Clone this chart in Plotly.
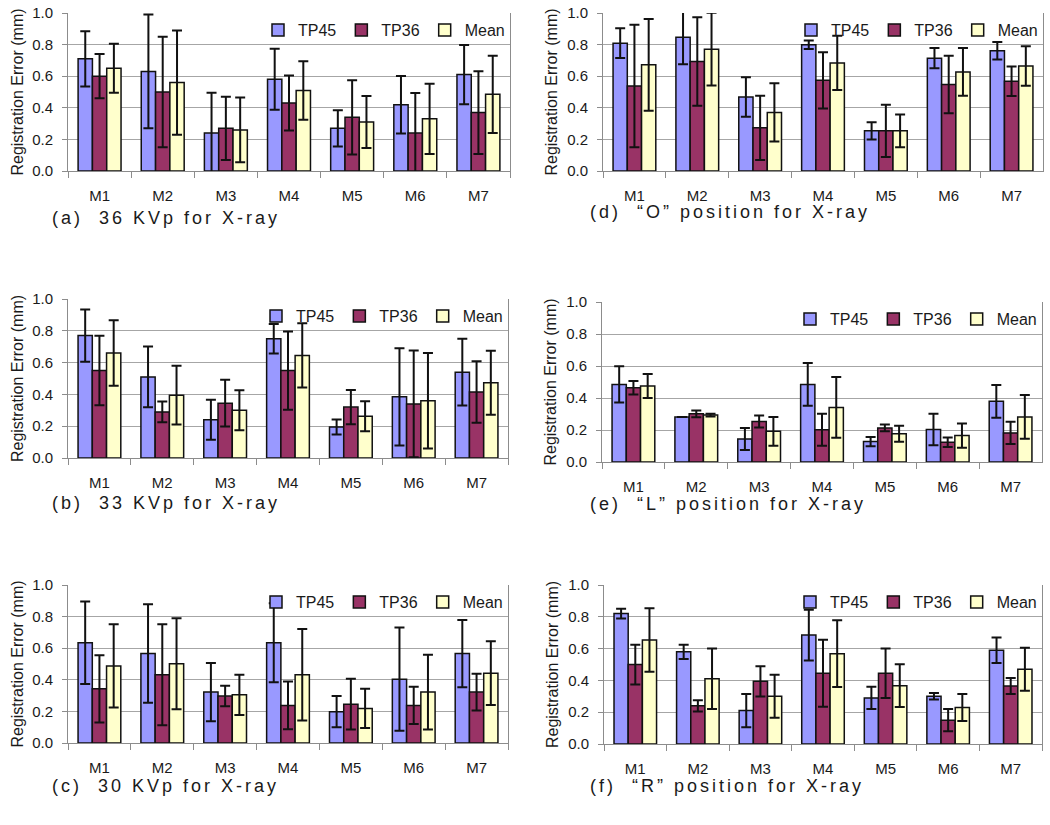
import plotly.graph_objects as go

categories = ["M1", "M2", "M3", "M4", "M5", "M6", "M7"]
series_names = ["TP45", "TP36", "Mean"]
y_ticks = [0.0, 0.2, 0.4, 0.6, 0.8, 1.0]

# (a) 36 KVp
a_tp45 = [0.71, 0.63, 0.24, 0.58, 0.27, 0.42, 0.61]
a_tp45_err = [0.175, 0.36, 0.256, 0.193, 0.115, 0.182, 0.188]
a_tp36 = [0.60, 0.50, 0.27, 0.43, 0.34, 0.24, 0.37]
a_tp36_err = [0.14, 0.35, 0.20, 0.174, 0.235, 0.254, 0.262]
a_mean = [0.65, 0.56, 0.26, 0.51, 0.31, 0.33, 0.485]
a_mean_err = [0.155, 0.33, 0.205, 0.185, 0.165, 0.222, 0.244]

# (b) 33 KVp
b_tp45 = [0.77, 0.51, 0.24, 0.75, 0.195, 0.385, 0.54]
b_tp45_err = [0.164, 0.191, 0.126, 0.093, 0.047, 0.306, 0.21]
b_tp36 = [0.55, 0.29, 0.345, 0.55, 0.32, 0.34, 0.415]
b_tp36_err = [0.219, 0.065, 0.147, 0.246, 0.107, 0.336, 0.193]
b_mean = [0.66, 0.395, 0.30, 0.645, 0.263, 0.36, 0.473]
b_mean_err = [0.206, 0.185, 0.126, 0.202, 0.094, 0.30, 0.201]

# (c) 30 KVp
c_tp45 = [0.634, 0.566, 0.322, 0.634, 0.198, 0.404, 0.566]
c_tp45_err = [0.261, 0.312, 0.185, 0.25, 0.099, 0.327, 0.213]
c_tp36 = [0.343, 0.432, 0.297, 0.238, 0.246, 0.238, 0.322]
c_tp36_err = [0.213, 0.32, 0.065, 0.151, 0.16, 0.118, 0.116]
c_mean = [0.488, 0.501, 0.305, 0.432, 0.219, 0.322, 0.442]
c_mean_err = [0.264, 0.288, 0.127, 0.29, 0.124, 0.236, 0.202]

# (d) "O" position
d_tp45 = [0.809, 0.847, 0.468, 0.799, 0.254, 0.714, 0.761]
d_tp45_err = [0.094, 0.172, 0.125, 0.027, 0.055, 0.064, 0.055]
d_tp36 = [0.538, 0.693, 0.273, 0.574, 0.254, 0.547, 0.568]
d_tp36_err = [0.388, 0.28, 0.203, 0.178, 0.165, 0.182, 0.093]
d_mean = [0.672, 0.771, 0.371, 0.684, 0.254, 0.627, 0.665]
d_mean_err = [0.29, 0.23, 0.184, 0.172, 0.104, 0.151, 0.125]

# (e) "L" position
e_tp45 = [0.485, 0.282, 0.144, 0.485, 0.128, 0.203, 0.379]
e_tp45_err = [0.113, 0.0, 0.069, 0.134, 0.029, 0.098, 0.102]
e_tp36 = [0.464, 0.301, 0.253, 0.201, 0.213, 0.123, 0.182]
e_tp36_err = [0.042, 0.021, 0.038, 0.10, 0.021, 0.03, 0.069]
e_mean = [0.475, 0.293, 0.192, 0.341, 0.176, 0.165, 0.282]
e_mean_err = [0.075, 0.008, 0.09, 0.19, 0.05, 0.076, 0.136]

# (f) "R" position
f_tp45 = [0.82, 0.58, 0.21, 0.685, 0.29, 0.30, 0.59]
f_tp45_err = [0.03, 0.045, 0.105, 0.16, 0.07, 0.02, 0.08]
f_tp36 = [0.50, 0.24, 0.394, 0.445, 0.445, 0.15, 0.365]
f_tp36_err = [0.125, 0.035, 0.095, 0.21, 0.155, 0.07, 0.05]
f_mean = [0.654, 0.41, 0.30, 0.568, 0.367, 0.23, 0.47]
f_mean_err = [0.20, 0.19, 0.135, 0.21, 0.135, 0.085, 0.135]

captions = {
    "a": "(a)  36 KVp for X-ray",
    "b": "(b)  33 KVp for X-ray",
    "c": "(c)  30 KVp for X-ray",
    "d": "(d)  \u201cO\u201d position for X-ray",
    "e": "(e)  \u201cL\u201d position for X-ray",
    "f": "(f)  \u201cR\u201d position for X-ray",
}

panels = [
    ("a", [a_tp45, a_tp36, a_mean], [a_tp45_err, a_tp36_err, a_mean_err]),
    ("d", [d_tp45, d_tp36, d_mean], [d_tp45_err, d_tp36_err, d_mean_err]),
    ("b", [b_tp45, b_tp36, b_mean], [b_tp45_err, b_tp36_err, b_mean_err]),
    ("e", [e_tp45, e_tp36, e_mean], [e_tp45_err, e_tp36_err, e_mean_err]),
    ("c", [c_tp45, c_tp36, c_mean], [c_tp45_err, c_tp36_err, c_mean_err]),
    ("f", [f_tp45, f_tp36, f_mean], [f_tp45_err, f_tp36_err, f_mean_err]),
]

colors = ["#9999FF", "#993366", "#FFFFCC"]

W, H = 1050, 825
# pixel boxes (left, right, top, bottom)
boxes = [
    (68, 510, 13, 171),
    (603, 1043, 13, 171),
    (68, 508, 299, 458),
    (602, 1042, 302, 462),
    (68, 508, 585, 743),
    (604, 1042, 585, 744),
]
caption_pos = [
    (50, 218), (588, 212), (50, 503), (588, 504), (50, 786), (588, 786),
]
title_standoff = [4, 5, 4, 5, 4, 5]

FONT = "Liberation Sans, Arial, sans-serif"
TXT = "#1a1a1a"

fig = go.Figure()
layout = dict(
    width=W, height=H,
    margin=dict(l=0, r=0, t=0, b=0, autoexpand=False),
    paper_bgcolor="white", plot_bgcolor="white",
    barmode="group", bargap=0.32, bargroupgap=0.0,
    font=dict(family=FONT, color=TXT, size=14),
    annotations=[],
)

for i, (key, vals, errs) in enumerate(panels):
    n = i + 1
    xa = "x" if n == 1 else f"x{n}"
    ya = "y" if n == 1 else f"y{n}"
    lg = "legend" if n == 1 else f"legend{n}"
    for s, name in enumerate(series_names):
        fig.add_trace(go.Bar(
            x=categories, y=vals[s], name=name,
            xaxis=xa, yaxis=ya, legend=lg,
            marker=dict(color=colors[s], line=dict(color="#111111", width=1.5)),
            error_y=dict(type="data", array=errs[s], visible=True,
                         color="#111111", thickness=2, width=5),
        ))
    l, r, t, b = boxes[i]
    xdom = [l / W, r / W]
    ydom = [1 - b / H, 1 - t / H]
    layout["xaxis" if n == 1 else f"xaxis{n}"] = dict(
        domain=xdom, anchor=ya, type="category", automargin=False,
        showgrid=False, showline=True, linecolor="#8c8c8c", linewidth=1,
        ticks="outside", tickson="boundaries", ticklen=6, tickcolor="#8c8c8c",
        tickfont=dict(size=15, family=FONT, color=TXT),
        ticklabelstandoff=11, zeroline=False,
    )
    layout["yaxis" if n == 1 else f"yaxis{n}"] = dict(
        domain=ydom, anchor=xa, range=[0, 1], tickvals=y_ticks, automargin=False,
        tickformat=".1f", showgrid=True, gridcolor="#a6a6a6", gridwidth=1,
        showline=True, linecolor="#8c8c8c", linewidth=1, mirror=True,
        ticks="outside", ticklen=5, tickcolor="#8c8c8c",
        tickfont=dict(size=15, family=FONT, color=TXT),
        ticklabelstandoff=6, zeroline=False,
        title=dict(text="Registration Error (mm)", font=dict(size=16, family=FONT, color=TXT),
                   standoff=title_standoff[i]),
    )
    layout[lg] = dict(
        orientation="h", x=r / W, xanchor="right", y=1 - t / H, yanchor="top",
        bgcolor="rgba(0,0,0,0)", borderwidth=0,
        font=dict(size=16, family=FONT, color=TXT),
        traceorder="normal",
    )
    cx, cy = caption_pos[i]
    layout["annotations"].append(dict(
        text='<span style="letter-spacing:3px">' + captions[key] + "</span>",
        xref="paper", yref="paper",
        x=cx / W, y=1 - cy / H, xanchor="left", yanchor="middle",
        showarrow=False, font=dict(size=18, family=FONT, color=TXT),
    ))

fig.update_layout(**layout)
fig.write_html(
    "out.html",
    config={"displayModeBar": False},
    post_script="document.body.style.margin='0';document.body.style.padding='0';document.body.style.overflow='hidden';",
)
